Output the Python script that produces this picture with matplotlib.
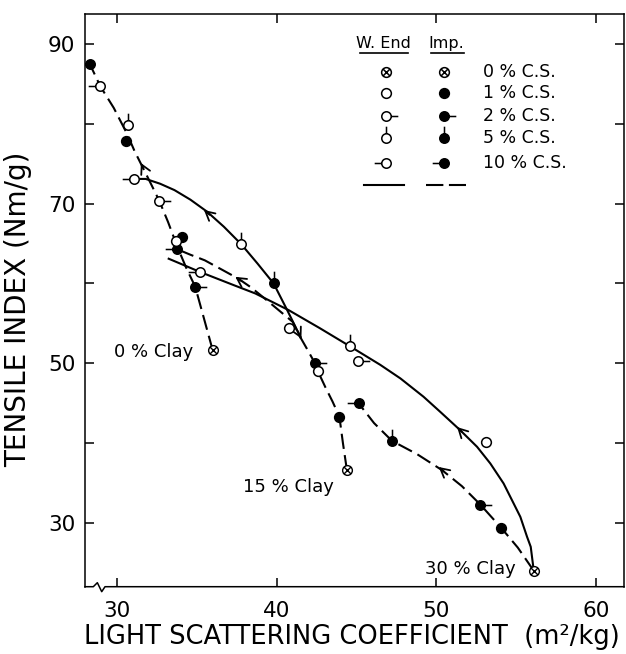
import numpy as np
import matplotlib
matplotlib.use("Agg")
import matplotlib.pyplot as plt
from matplotlib.path import Path
from matplotlib.ticker import FixedLocator

plt.rcParams['font.family'] = ['DejaVu Sans']
plt.rcParams['lines.scale_dashes'] = False

# ---- curves (light scattering, tensile index) ----
# 0 % clay, impregnation (dashed)
d0_x = [36.0, 35.45, 34.9, 34.35, 33.8, 33.2, 32.65, 32.1, 31.6, 31.1, 30.62, 29.8, 28.96, 28.3]
d0_y = [51.6, 55.6, 59.6, 61.9, 64.5, 67.7, 70.36, 72.6, 74.6, 76.6, 78.8, 82.0, 84.7, 87.5]
# 15 % clay, wet end (solid)
s15_x = [31.05, 31.8, 32.7, 33.6, 34.6, 35.64, 36.7, 37.79, 38.8, 39.81, 40.65, 41.17, 41.5]
s15_y = [73.1, 73.1, 72.5, 71.7, 70.5, 69.0, 67.1, 64.9, 62.5, 60.0, 56.7, 54.6, 53.2]
# 15 % clay, impregnation (dashed)
d15_x = [44.4, 44.15, 43.93, 43.5, 43.05, 42.57, 42.4, 41.9, 41.5, 41.0, 40.1, 39.2, 38.4, 37.6, 36.6, 35.5, 34.6, 33.76]
d15_y = [36.6, 40.0, 43.3, 45.2, 47.0, 49.05, 50.0, 51.8, 53.2, 55.2, 56.7, 58.2, 59.5, 60.6, 61.7, 62.9, 63.6, 64.3]
# 30 % clay, wet end (solid)
s30_x = [56.1, 55.91, 55.68, 55.26, 54.84, 54.21, 53.38, 52.55, 51.5, 50.25, 49.2, 47.75, 46.49,
         44.57, 42.7, 40.75, 38.66, 37.3, 35.18, 33.24]
s30_y = [24.0, 27.0, 28.25, 30.75, 32.43, 34.94, 37.44, 39.53, 41.6, 43.9, 45.8, 48.1, 49.8,
         52.15, 54.4, 56.66, 58.75, 59.8, 61.46, 63.1]
# 30 % clay, impregnation (dashed)
d30_x = [56.1, 55.1, 54.05, 52.75, 51.6, 50.36, 48.8, 47.22, 46.1, 45.14]
d30_y = [24.0, 26.9, 29.4, 32.3, 34.6, 36.6, 38.6, 40.28, 42.5, 44.96]

# ---- measured points ----
wend_x = [28.96, 30.69, 31.05, 32.65, 33.72, 35.18, 37.79, 40.75, 42.57, 44.57, 45.1, 53.13]
wend_y = [84.7, 79.85, 73.1, 70.36, 65.35, 61.46, 64.9, 54.4, 49.05, 52.15, 50.3, 40.15]
wend_cs = [10, 5, 10, 2, 1, 10, 5, 1, 1, 5, 2, 1]

imp_x = [28.3, 30.59, 34.08, 33.76, 34.9, 39.81, 42.4, 43.93, 45.14, 47.22, 52.75, 54.05]
imp_y = [87.5, 77.84, 65.85, 64.3, 59.6, 60.0, 50.0, 43.3, 44.96, 40.28, 32.3, 29.4]
imp_cs = [10, 1, 1, 10, 2, 5, 2, 1, 10, 5, 2, 1]

zero_x = [36.0, 44.4, 56.1]
zero_y = [51.6, 36.6, 24.0]
clay_labels = ["0 % Clay", "15 % Clay", "30 % Clay"]

cs_levels = [0, 1, 2, 5, 10]

# arrows along curves: (tail_x, tail_y, tip_x, tip_y)
arrows = [(31.62, 74.6, 31.5, 75.1),
          (35.8, 68.6, 35.45, 69.2),
          (37.8, 60.3, 37.41, 60.83),
          (41.3, 54.1, 41.55, 53.1),
          (51.6, 41.4, 51.3, 42.0),
          (50.45, 36.5, 50.15, 37.0)]


def marker_path(kind):
    circ = Path.unit_circle()
    if kind == 'plain':
        return circ
    if kind == 'zero':
        d = 0.7071
        cross = Path([[-d, -d], [d, d], [-d, d], [d, -d]],
                     [Path.MOVETO, Path.LINETO, Path.MOVETO, Path.LINETO])
        return Path.make_compound_path(circ, cross)
    stub = {'right': [[1, 0], [2.5, 0]],
            'left': [[-1, 0], [-2.5, 0]],
            'top': [[0, 1], [0, 2.5]]}[kind]
    return Path.make_compound_path(circ, Path(stub, [Path.MOVETO, Path.LINETO]))


cs_kind = {0: 'zero', 1: 'plain', 2: 'right', 5: 'top', 10: 'left'}
ms_small = 7.0
ms_stub = 17.0


def msize(cs):
    return ms_stub if cs_kind[cs] in ('right', 'left', 'top') else ms_small


fig = plt.figure(figsize=(6.26, 6.54), dpi=100)
ax = fig.add_axes([0.1358, 0.1029, 0.8610, 0.8761])
ax.set_xlim(28.0, 61.75)
ax.set_ylim(22.0, 93.8)

lw = 1.5
dash = (11, 4.5)
ax.plot(d0_x, d0_y, color='k', lw=lw, dashes=dash)
ax.plot(d15_x, d15_y, color='k', lw=lw, dashes=dash)
ax.plot(d30_x, d30_y, color='k', lw=lw, dashes=dash)
ax.plot(s15_x, s15_y, color='k', lw=lw)
ax.plot(s30_x, s30_y, color='k', lw=lw)

for tx, ty, hx, hy in arrows:
    ax.annotate('', xy=(hx, hy), xytext=(tx, ty),
                arrowprops=dict(arrowstyle='->,head_length=0.65,head_width=0.35',
                                color='k', lw=1.3, shrinkA=0, shrinkB=0))

# points: impregnation first, wet end on top
imp_x = np.array(imp_x); imp_y = np.array(imp_y); imp_cs = np.array(imp_cs)
wend_x = np.array(wend_x); wend_y = np.array(wend_y); wend_cs = np.array(wend_cs)
for cs in cs_levels[1:]:
    m = imp_cs == cs
    ax.plot(imp_x[m], imp_y[m], ls='none', marker=marker_path(cs_kind[cs]),
            ms=msize(cs), mfc='k', mec='k', mew=1.1, zorder=4)
for cs in cs_levels[1:]:
    m = wend_cs == cs
    ax.plot(wend_x[m], wend_y[m], ls='none', marker=marker_path(cs_kind[cs]),
            ms=msize(cs), mfc='white', mec='k', mew=1.1, zorder=5)
ax.plot(zero_x, zero_y, ls='none', marker=marker_path('zero'), ms=ms_small,
        mfc='white', mec='k', mew=1.0, zorder=6)

# clay labels
for x, y, lab, dx, dy in zip(zero_x, zero_y, clay_labels, [-1.2, -0.8, -1.1], [-0.2, -2.1, 0.2]):
    ax.text(x + dx, y + dy, lab, fontsize=13, ha='right', va='center')

# ---- legend drawn as a small table ----
tr = ax.transAxes
col_w, col_i, col_t = 0.558, 0.666, 0.739
ax.text(0.5535, 0.948, 'W. End', transform=tr, fontsize=11.5, ha='center', va='center')
ax.text(0.671, 0.948, 'Imp.', transform=tr, fontsize=11.5, ha='center', va='center')
ax.plot([0.510, 0.599], [0.9323, 0.9323], transform=tr, color='k', lw=1.2)
ax.plot([0.641, 0.703], [0.9323, 0.9323], transform=tr, color='k', lw=1.2)
rows_y = [0.8988, 0.861, 0.8215, 0.7836, 0.7389]
for cs, ry in zip(cs_levels, rows_y):
    face_w = 'white'
    face_i = 'white' if cs == 0 else 'k'
    ax.plot([col_w], [ry], transform=tr, ls='none', marker=marker_path(cs_kind[cs]),
            ms=msize(cs), mfc=face_w, mec='k', mew=1.1, clip_on=False)
    ax.plot([col_i], [ry], transform=tr, ls='none', marker=marker_path(cs_kind[cs]),
            ms=msize(cs), mfc=face_i, mec='k', mew=1.1, clip_on=False)
    ax.text(col_t, ry, f'{cs} % C.S.', transform=tr, fontsize=12.5, ha='left', va='center')
ax.plot([0.5176, 0.5918], [0.701, 0.701], transform=tr, color='k', lw=1.5)
ax.plot([0.6326, 0.7069], [0.701, 0.701], transform=tr, color='k', lw=1.5, dashes=(12.5, 4))

# ---- axes styling ----
ax.xaxis.set_major_locator(FixedLocator([30, 40, 50, 60]))
ax.yaxis.set_major_locator(FixedLocator([30, 50, 70, 90]))
ax.yaxis.set_minor_locator(FixedLocator([40, 60, 80]))
ax.tick_params(which='both', direction='in', length=6.5, width=1.1,
               top=True, right=True, labelsize=15.5)
ax.tick_params(axis='x', pad=10)
ax.tick_params(axis='y', pad=7)
for s in ax.spines.values():
    s.set_linewidth(1.1)
ax.spines['bottom'].set_visible(False)
# bottom spine with axis break near the origin
ax.plot([0, 0.0154, 0.0229, 0.031, 0.0371, 1], [0, 0, 0.007, -0.0087, 0, 0],
        transform=tr, color='k', lw=1.1, clip_on=False)

ax.set_xlabel('LIGHT SCATTERING COEFFICIENT  (m²/kg)', fontsize=18.5, va='center')
ax.xaxis.set_label_coords(0.495, -0.0878)
ax.set_ylabel('TENSILE INDEX (Nm/g)', fontsize=20, va='center')
ax.yaxis.set_label_coords(-0.124, 0.4846)

fig.savefig('out.png', dpi=100)
